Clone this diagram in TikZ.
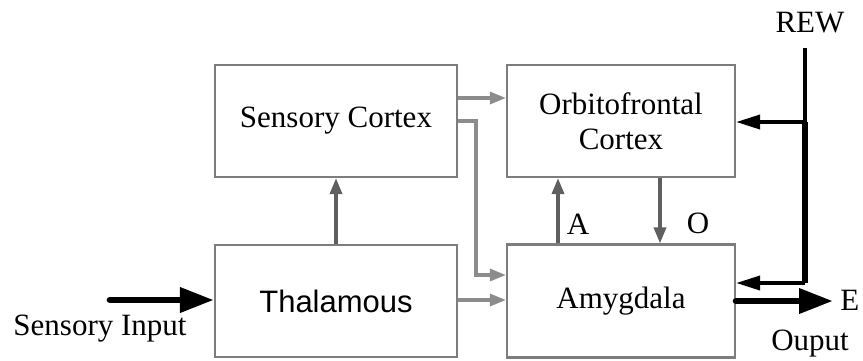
\documentclass[tikz,border=0pt]{standalone}
\usepackage{fontspec}
\setmainfont{Liberation Serif}
\newfontfamily\arialf{Liberation Sans}
\usetikzlibrary{arrows.meta,calc}
\definecolor{boxgray}{RGB}{125,125,125}
\definecolor{arrgray}{RGB}{140,140,140}
\definecolor{darkarr}{RGB}{95,95,95}
\tikzset{
  blk/.style={draw=boxgray, line width=1.1pt, rectangle, inner sep=0pt, align=center,
    font=\fontsize{15.5}{17.5}\selectfont},
  grayarr/.style={draw=arrgray, line width=1.6pt, -{Triangle[length=8pt,width=6pt]}},
  darkarrow/.style={draw=darkarr, line width=1.7pt, -{Triangle[length=8pt,width=6pt]}},
  bigarr/.style={draw=black, line width=3.4pt, line cap=round, -{Triangle[length=17pt,width=12pt]}},
  rewarr/.style={draw=black, line width=1.8pt, -{Triangle[length=12pt,width=7pt]}},
  lbl/.style={inner sep=0pt, font=\fontsize{15.5}{17.5}\selectfont}
}
\begin{document}
\begin{tikzpicture}[x=0.5pt,y=-0.5pt]
\useasboundingbox (0,0) rectangle (863,360);
% boxes
\node[blk, minimum width=121pt, minimum height=56pt] (sc) at (336,121) {Sensory Cortex};
\node[blk, minimum width=114pt, minimum height=56pt] (ofc) at (621,121) {Orbitofrontal\\Cortex};
\node[blk, minimum width=121pt, minimum height=56pt, font=\arialf\fontsize{15.5}{17.5}\selectfont] (th) at (336,301) {Thalamous};
\node[blk, minimum width=114pt, minimum height=56.5pt] (am) at (621,301) {\raisebox{-3pt}{Amygdala}};
% helper coordinates
\coordinate (y98) at (0,98);
\coordinate (y121) at (0,121);
\coordinate (x476) at (476,0);
\coordinate (y275) at (0,275);
\coordinate (y300) at (0,300);
\coordinate (xA) at (558,0);
\coordinate (xO) at (660,0);
\coordinate (in) at (110,300);
\coordinate (outE) at (833,301);
\coordinate (rewtop) at (805,48);
\coordinate (rewmid) at (805,122);
\coordinate (rewbot) at (805,283);
% gray connectors
\draw[darkarrow] (th.north) -- (sc.south);
\draw[grayarr] (sc.east |- y98) -- (ofc.west |- y98);
\draw[grayarr] (sc.east |- y121) -- (x476 |- y121) -- (x476 |- y275) -- (am.west |- y275);
\draw[grayarr] (th.east |- y300) -- (am.west |- y300);
\draw[darkarrow] (am.north -| xA) -- (ofc.south -| xA);
\draw[darkarrow] (ofc.south -| xO) -- (am.north -| xO);
% black connectors
\draw[bigarr] (in) -- (th.west |- in);
\draw[bigarr] (am.east |- outE) -- (outE);
\draw[black, line width=1.6pt] (rewtop) -- (rewmid);
\draw[black, line width=2.6pt] (rewmid) -- (rewbot);
\draw[rewarr] (rewmid) -- (ofc.east |- rewmid);
\draw[rewarr] (rewbot) -- (am.east |- rewbot);
% labels
\node[lbl] (lA) at (578,224) {A};
\node[lbl] (lO) at (698,223) {O};
\node[lbl] (lrew) at (810,23) {REW};
\node[lbl, anchor=west] (lE) at (840,300) {E};
\node[lbl] (lout) at (810,344) {Ouput};
\node[lbl] (lin) at (100,329) {Sensory Input};
\end{tikzpicture}
\end{document}
